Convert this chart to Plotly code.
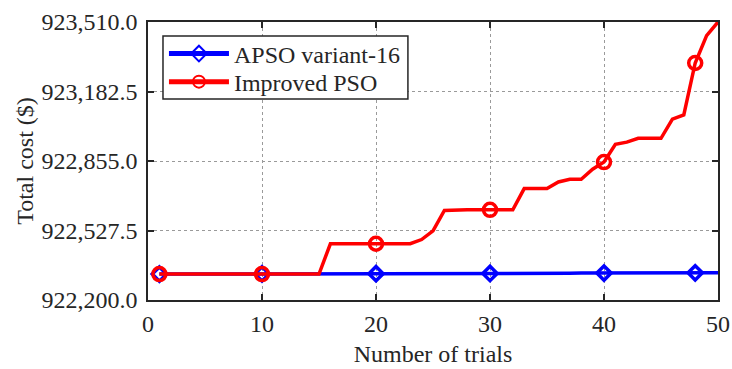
import plotly.graph_objects as go

trials = list(range(1, 51))
apso = [922322, 922322, 922322, 922322, 922322, 922322, 922322, 922322, 922323, 922323,
        922323, 922323, 922323, 922323, 922323, 922323, 922324, 922324, 922324, 922324,
        922324, 922324, 922324, 922324, 922325, 922325, 922325, 922325, 922325, 922325,
        922326, 922326, 922326, 922326, 922326, 922326, 922326, 922327, 922327, 922327,
        922327, 922327, 922327, 922327, 922328, 922328, 922328, 922328, 922328, 922328]
improved = [922322, 922322, 922322, 922322, 922322, 922322, 922322, 922322, 922322, 922322,
            922322, 922322, 922322, 922322, 922322, 922465, 922465, 922465, 922465, 922465,
            922465, 922465, 922465, 922485, 922526, 922622, 922625, 922625, 922625, 922625,
            922625, 922625, 922725, 922725, 922725, 922756, 922769, 922769, 922816, 922850,
            922934, 922944, 922962, 922962, 922962, 923052, 923072, 923317, 923446, 923510]
marker_trials = [1, 10, 20, 30, 40, 48]
series_names = ["APSO variant-16", "Improved PSO"]

y_ticks = [922200.0, 922527.5, 922855.0, 923182.5, 923510.0]
y_labels = [f"{v:,.1f}" for v in y_ticks]
x_ticks = [0, 10, 20, 30, 40, 50]

FONT = "Liberation Serif"
TXT = "#262626"
FS = 24

fig = go.Figure()
styles = [("#0000ff", "diamond", 11, "legend"), ("#ff0000", "circle", 13, "legend2")]
for name, ys, (color, sym, msize, leg) in zip(series_names, [apso, improved], styles):
    sizes = [msize if t in marker_trials else 0 for t in trials]
    fig.add_trace(go.Scatter(
        x=trials, y=ys, mode="lines+markers", name=name, legend=leg,
        line=dict(color=color, width=3.5),
        marker=dict(symbol=sym, size=sizes, color="rgba(255,255,255,0)", opacity=1,
                    line=dict(width=3.5, color=color)),
    ))

axis_common = dict(
    showline=True, linecolor=TXT, linewidth=1.5, mirror="allticks",
    ticks="inside", ticklen=6, tickcolor=TXT, tickwidth=1.5,
    showgrid=True, gridcolor="#9a9a9a", griddash="dot", gridwidth=1,
    zeroline=False, automargin=False,
    tickfont=dict(family=FONT, size=FS, color=TXT),
    title_font=dict(family=FONT, size=FS, color=TXT),
)

fig.update_xaxes(range=[0, 50], tickvals=x_ticks, ticktext=[str(v) for v in x_ticks],
                 title_text="Number of trials", title_standoff=10, ticklabelstandoff=1,
                 **axis_common)
fig.update_yaxes(range=[922200, 923510], tickvals=y_ticks, ticktext=y_labels,
                 title_text="Total cost ($)", title_standoff=1, ticklabelstandoff=4,
                 **axis_common)

leg_common = dict(xanchor="left", yanchor="middle", x=0.028,
                  bgcolor="rgba(0,0,0,0)", borderwidth=0,
                  font=dict(family=FONT, size=FS, color=TXT),
                  itemwidth=60, itemsizing="constant")

fig.update_layout(
    width=732, height=369,
    margin=dict(l=148, r=14, t=22, b=69),
    paper_bgcolor="white", plot_bgcolor="white",
    font=dict(family=FONT, size=FS, color=TXT),
    showlegend=True,
    legend=dict(y=0.885, **leg_common),
    legend2=dict(y=0.784, **leg_common),
    shapes=[dict(type="rect", xref="paper", yref="paper",
                 x0=0.0263, x1=0.456, y0=0.723, y1=0.95,
                 fillcolor="white", line=dict(color=TXT, width=1.5), layer="above")],
)

fig.write_html("out.html")
